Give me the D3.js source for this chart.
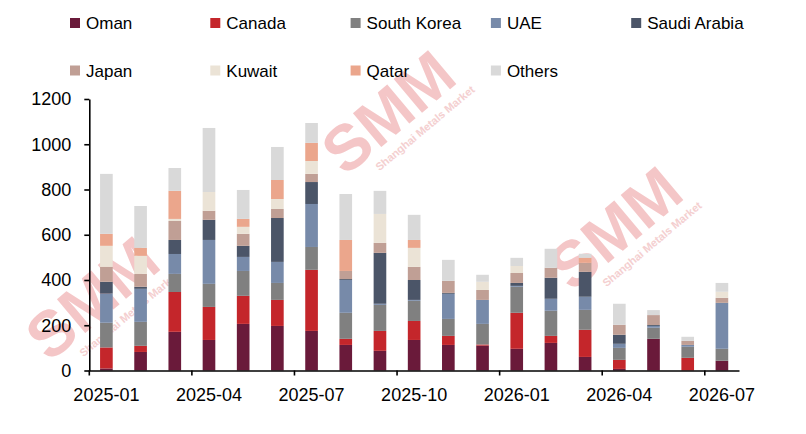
<!DOCTYPE html>
<html>
<head>
<meta charset="utf-8">
<script src="https://cdn.jsdelivr.net/npm/d3@7"></script>
<style>
    body { margin: 0; background: #fff; }
    svg { display: block; font-family: "Liberation Sans", Arial, sans-serif; }
</style>
</head>
<body>
<svg id="chart"></svg>
<script>
const months = ["2025-01", "2025-02", "2025-03", "2025-04", "2025-05", "2025-06", "2025-07",
    "2025-08", "2025-09", "2025-10", "2025-11", "2025-12", "2026-01", "2026-02",
    "2026-03", "2026-04", "2026-05", "2026-06", "2026-07"]
const tickMonths = ["2025-01", "2025-04", "2025-07", "2025-10", "2026-01", "2026-04", "2026-07"]
const yTicks = [0, 200, 400, 600, 800, 1000, 1200]

const series = ["Oman", "Canada", "South Korea", "UAE", "Saudi Arabia",
    "Japan", "Kuwait", "Qatar", "Others"]
const colors = ["#6a1a3a", "#c4262b", "#808080", "#778aa9", "#4b5568",
    "#c09f95", "#ebe3d6", "#eba68c", "#d9d9d9"]

const oman = [9, 82, 171, 135, 206, 197, 175, 113, 87, 135, 113, 110, 96, 122, 60, 7, 140, 0, 43]
const canada = [93, 27, 176, 146, 124, 115, 270, 27, 88, 84, 40, 5, 159, 31, 120, 40, 0, 56, 0]
const southKorea = [109, 106, 80, 102, 110, 75, 101, 115, 115, 89, 75, 91, 115, 111, 88, 53, 49, 49, 53]
const uae = [129, 146, 88, 194, 62, 93, 190, 145, 5, 4, 111, 106, 4, 53, 58, 18, 8, 8, 203]
const saudiArabia = [52, 9, 62, 89, 49, 194, 97, 4, 225, 88, 4, 0, 13, 93, 110, 40, 4, 0, 0]
const japan = [66, 57, 84, 40, 53, 40, 36, 36, 44, 58, 53, 44, 44, 44, 40, 44, 44, 18, 22]
const kuwait = [93, 80, 9, 83, 31, 44, 57, 0, 128, 84, 0, 36, 31, 0, 0, 0, 0, 0, 27]
const qatar = [53, 35, 124, 0, 35, 84, 80, 137, 0, 35, 0, 0, 0, 0, 22, 0, 0, 0, 0]
const others = [265, 185, 101, 283, 128, 146, 88, 203, 102, 111, 93, 31, 36, 84, 18, 93, 22, 18, 39]

const values = [oman, canada, southKorea, uae, saudiArabia, japan, kuwait, qatar, others]

function draw() {
    const w = 806
    const h = 434
    const svg = d3.select("#chart")
        .attr("width", w)
        .attr("height", h)
        .attr("viewBox", `0 0 ${w} ${h}`)

    // rows for d3.stack, one per month
    const rows = months.map((m, i) => {
        const row = { month: m }
        series.forEach((s, j) => { row[s] = values[j][i] })
        return row
    })
    const stacked = d3.stack().keys(series)(rows)

    const x = d3.scaleBand()
        .domain(months)
        .range([89.3, 739])
        .paddingInner(0.63)
        .paddingOuter(0.315)
    const y = d3.scaleLinear()
        .domain([0, 1200])
        .range([370.5, 99])

    // watermark, sits behind the bars
    const marks = [[92, 298], [388, 112], [615, 228]]
    const wm = svg.append("g").attr("class", "watermark")
    marks.forEach(([cx, cy]) => {
        const g = wm.append("g").attr("transform", `translate(${cx}, ${cy}) rotate(-40)`)
        g.append("text")
            .attr("text-anchor", "middle")
            .attr("dy", "0.35em")
            .style("font-size", "64px")
            .style("font-weight", "bold")
            .style("fill", "#f4c6c7")
            .text("SMM")
        g.append("text")
            .attr("text-anchor", "middle")
            .attr("x", 18)
            .attr("y", 40)
            .style("font-size", "11px")
            .style("font-weight", "bold")
            .style("fill", "#f4cfd0")
            .text("Shanghai Metals Market")
    })

    svg.append("g")
        .selectAll("g")
        .data(stacked)
        .join("g")
        .attr("fill", d => colors[series.indexOf(d.key)])
        .selectAll("rect")
        .data(d => d)
        .join("rect")
        .attr("x", d => x(d.data.month))
        .attr("width", x.bandwidth())
        .attr("y", d => y(d[1]))
        .attr("height", d => y(d[0]) - y(d[1]))

    const xAxis = d3.axisBottom(x)
        .tickValues(tickMonths)
        .tickSize(0)
        .tickSizeOuter(0)
        .tickPadding(18)
    const gx = svg.append("g")
        .attr("class", "x axis")
        .attr("transform", `translate(0, ${y(0)})`)
        .call(xAxis)
    gx.selectAll("text").style("font-size", "18px").attr("fill", "#000")
    gx.select(".domain").attr("stroke", "#000").attr("stroke-width", 1.6)

    // ticks sit on the band edges, the labels stay centred on the bars
    const edge = (x.step() - x.bandwidth()) / 2
    gx.selectAll(".edge")
        .data(tickMonths)
        .join("line")
        .attr("class", "edge")
        .attr("x1", d => x(d) - edge)
        .attr("x2", d => x(d) - edge)
        .attr("y1", 0)
        .attr("y2", 5)
        .attr("stroke", "#000")
        .attr("stroke-width", 1.6)

    const yAxis = d3.axisLeft(y)
        .tickValues(yTicks)
        .tickFormat(d3.format("d"))
        .tickSize(5)
        .tickSizeOuter(0)
        .tickPadding(13)
    const gy = svg.append("g")
        .attr("class", "y axis")
        .attr("transform", `translate(${x.range()[0]}, 0)`)
        .call(yAxis)
    gy.selectAll("text").style("font-size", "18px").attr("fill", "#000")
    gy.selectAll("line").attr("stroke", "#000").attr("stroke-width", 1.6)
    gy.select(".domain").attr("stroke", "#000").attr("stroke-width", 1.6)

    // legend, five columns by two rows
    const legend = svg.append("g")
        .attr("class", "legend")
        .selectAll("g")
        .data(series)
        .join("g")
        .attr("transform", (d, i) => `translate(${70 + (i % 5) * 140.3}, ${18 + Math.floor(i / 5) * 47.5})`)
    legend.append("rect")
        .attr("width", 10)
        .attr("height", 10)
        .attr("fill", d => colors[series.indexOf(d)])
    legend.append("text")
        .attr("x", 16)
        .attr("y", 11)
        .style("font-size", "17px")
        .attr("fill", "#000")
        .text(d => d)
}

draw()
</script>
</body>
</html>
